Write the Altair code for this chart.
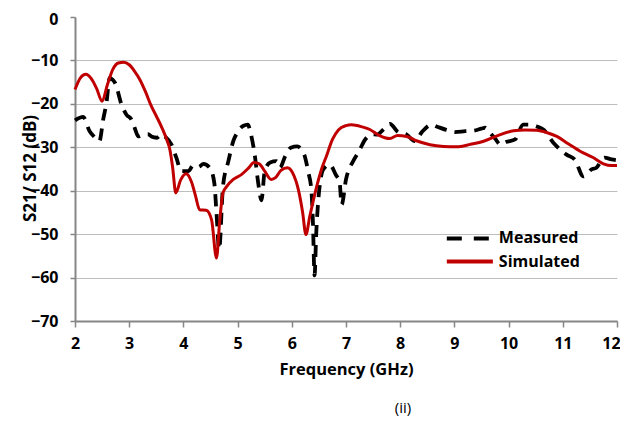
import altair as alt
import pandas as pd

# ---- data ----
sim_freq = [2.0, 2.1, 2.2, 2.3, 2.4, 2.5, 2.6, 2.7, 2.8, 2.9, 3.0, 3.1, 3.2, 3.3, 3.4,
            3.5, 3.6, 3.7, 3.75, 3.8, 3.86, 3.95, 4.05, 4.15, 4.22, 4.3, 4.42, 4.52,
            4.61, 4.67, 4.73, 4.8, 4.92, 5.07, 5.2, 5.3, 5.4, 5.5, 5.62, 5.7, 5.8,
            5.92, 6.02, 6.12, 6.2, 6.26, 6.33, 6.46, 6.55, 6.64, 6.75, 6.86, 7.0,
            7.1, 7.3, 7.44, 7.6, 7.81, 7.95, 8.12, 8.3, 8.55, 8.8, 9.04, 9.3, 9.54,
            9.8, 10.09, 10.3, 10.52, 10.7, 10.89, 11.1, 11.32, 11.55, 11.75, 11.9, 12.0]
sim_db = [-16.7, -14.0, -13.2, -14.2, -16.5, -19.4, -15.5, -12.0, -10.6, -10.4, -11.0,
          -12.5, -14.5, -17.2, -20.3, -22.8, -25.4, -28.5, -30.5, -34.5, -40.5, -37.5,
          -36.1, -38.0, -41.0, -44.4, -44.5, -46.7, -55.5, -47.0, -40.5, -39.0, -37.4,
          -36.3, -34.8, -33.5, -33.8, -35.5, -37.4, -37.0, -35.3, -34.7, -36.0, -39.7,
          -45.0, -50.1, -46.0, -39.0, -35.0, -32.0, -28.2, -26.0, -25.0, -24.8, -25.3,
          -25.9, -27.2, -28.0, -27.3, -27.5, -28.5, -29.4, -29.8, -29.9, -29.3, -28.6,
          -27.3, -26.2, -26.0, -26.1, -26.6, -27.5, -29.2, -30.9, -32.3, -33.8, -34.2,
          -34.2]

meas_freq = [2.0, 2.15, 2.27, 2.35, 2.45, 2.52, 2.58, 2.64, 2.7, 2.74, 2.86, 2.95, 3.04,
             3.1, 3.17, 3.26, 3.35, 3.41, 3.51, 3.6, 3.66, 3.78, 3.87, 3.96, 4.09, 4.18,
             4.28, 4.37, 4.49, 4.57, 4.61, 4.66, 4.73, 4.83, 4.92, 5.0, 5.1, 5.19, 5.24,
             5.32, 5.38, 5.44, 5.5, 5.6, 5.72, 5.78, 5.88, 5.98, 6.1, 6.23, 6.3, 6.36,
             6.39, 6.42, 6.45, 6.48, 6.58, 6.7, 6.82, 6.88, 6.92, 7.0, 7.15, 7.24, 7.36,
             7.5, 7.57, 7.69, 7.81, 7.96, 8.12, 8.27, 8.4, 8.58, 8.67, 8.85, 9.01, 9.2,
             9.35, 9.5, 9.57, 9.63, 9.75, 9.85, 9.95, 10.12, 10.27, 10.4, 10.52, 10.64,
             10.83, 10.95, 11.07, 11.22, 11.38, 11.53, 11.62, 11.77, 11.9, 12.0]
meas_db = [-23.8, -23.0, -26.3, -27.5, -28.6, -23.6, -19.8, -14.0, -14.5, -15.2, -20.2,
           -22.5, -23.6, -25.5, -27.5, -27.1, -27.0, -27.5, -27.8, -27.0, -27.5, -29.4,
           -32.4, -35.5, -35.5, -34.2, -34.5, -33.8, -34.8, -38.2, -45.0, -53.5, -39.0,
           -33.2, -28.6, -26.5, -25.1, -24.8, -26.7, -32.1, -38.2, -42.2, -35.5, -33.5,
           -33.2, -34.7, -32.0, -30.1, -29.8, -31.7, -35.5, -39.7, -47.4, -59.5, -50.0,
           -43.6, -35.1, -34.0, -36.5, -37.8, -43.2, -37.4, -32.8, -30.9, -28.1, -27.0,
           -27.1, -25.9, -24.6, -26.5, -27.1, -28.6, -26.5, -24.8, -25.2, -26.0, -26.5,
           -26.3, -26.2, -25.7, -25.5, -26.3, -28.0, -29.4, -28.8, -28.2, -24.8, -24.8,
           -25.2, -25.9, -29.0, -30.5, -31.7, -32.8, -36.7, -35.1, -34.7, -32.4, -32.8,
           -33.0]

series_names = ["Measured", "Simulated"]
series_colors = ["#000000", "#c00000"]
x_ticks = list(range(2, 13))
y_ticks = list(range(-70, 1, 10))

# legend entries (positions in data units)
leg_x1 = [8.86, 8.86]
leg_x2 = [9.66, 9.71]
leg_y = [-51.0, -56.3]
leg_tx = [9.82, 9.82]

FONT = "Open Sans"

meas_df = pd.DataFrame({"freq": meas_freq, "db": meas_db, "series": "Measured"})
sim_df = pd.DataFrame({"freq": sim_freq, "db": sim_db, "series": "Simulated"})
leg_df = pd.DataFrame({"x1": leg_x1, "x2": leg_x2, "y": leg_y, "tx": leg_tx,
                       "series": series_names})

xscale = alt.Scale(domain=[2, 12], nice=False, zero=False)
yscale = alt.Scale(domain=[-70, 0], nice=False, zero=False)
cscale = alt.Scale(domain=series_names, range=series_colors)

xaxis = alt.Axis(values=x_ticks, title="Frequency (GHz)", grid=False, labelFlush=False,
                 labelOffset={"condition": {"test": "datum.value === 12", "value": -6},
                              "value": 0},
                 labelFont=FONT, labelFontSize=16, labelFontWeight="bold", labelColor="#000",
                 labelPadding=8, tickSize=6, tickColor="#868686", tickWidth=1.5,
                 domainColor="#868686", domainWidth=2,
                 titleFont=FONT, titleFontSize=16.5, titleFontWeight="bold", titleColor="#000",
                 titleY=48, titleBaseline="middle")
yaxis = alt.Axis(values=y_ticks, title="S21/ S12 (dB)", grid=True, labelFlush=False,
                 labelOffset={"condition": {"test": "datum.value === 0", "value": 2},
                              "value": 0},
                 gridColor="#bdbdbd", gridWidth=1,
                 gridOpacity={"condition": {"test": "datum.value === 0", "value": 0}, "value": 1},
                 labelFont=FONT, labelFontSize=16, labelFontWeight="bold", labelColor="#000",
                 labelPadding=12, tickSize=5, tickColor="#868686", tickWidth=1.5,
                 domainColor="#868686", domainWidth=2,
                 titleFont=FONT, titleFontSize=17, titleFontWeight="bold", titleColor="#000",
                 titleAngle=270, titleX=-45, titleY=151, titleAlign="center",
                 titleBaseline="middle")

meas = alt.Chart(meas_df).mark_line(interpolate="monotone", strokeWidth=3.8,
                                    strokeDash=[12, 8]).encode(
    x=alt.X("freq:Q", scale=xscale, axis=xaxis),
    y=alt.Y("db:Q", scale=yscale, axis=yaxis),
    color=alt.Color("series:N", scale=cscale, legend=None),
)
sim = alt.Chart(sim_df).mark_line(interpolate="monotone", strokeWidth=3).encode(
    x=alt.X("freq:Q", scale=xscale),
    y=alt.Y("db:Q", scale=yscale),
    color=alt.Color("series:N", scale=cscale, legend=None),
)

leg_lines = alt.Chart(leg_df).mark_rule(strokeWidth=3.8).encode(
    x=alt.X("x1:Q", scale=xscale),
    x2="x2:Q",
    y=alt.Y("y:Q", scale=yscale),
    color=alt.Color("series:N", scale=cscale, legend=None),
    strokeDash=alt.StrokeDash("series:N", scale=alt.Scale(domain=series_names,
                              range=[[15, 12], [1, 0]]), legend=None),
)
leg_text = alt.Chart(leg_df).mark_text(align="left", baseline="middle", font=FONT,
                                       fontSize=16, fontWeight="bold", color="#000").encode(
    x=alt.X("tx:Q", scale=xscale),
    y=alt.Y("y:Q", scale=yscale),
    text="series:N",
)

caption = alt.Chart(pd.DataFrame({"label": ["(ii)"]})).mark_text(
    font=FONT, fontSize=15, color="#000", align="center", baseline="middle"
).encode(x=alt.value(328), y=alt.value(391), text="label:N")

chart = alt.layer(meas, sim, leg_lines, leg_text, caption).properties(
    width=542, height=304,
    autosize=alt.AutoSizeParams(type="none"),
    padding={"left": 67, "top": 9, "right": 3, "bottom": 95},
    background="white",
).configure_view(stroke=None)

chart.save("out.html", embed_options={"renderer": "svg", "actions": False})
